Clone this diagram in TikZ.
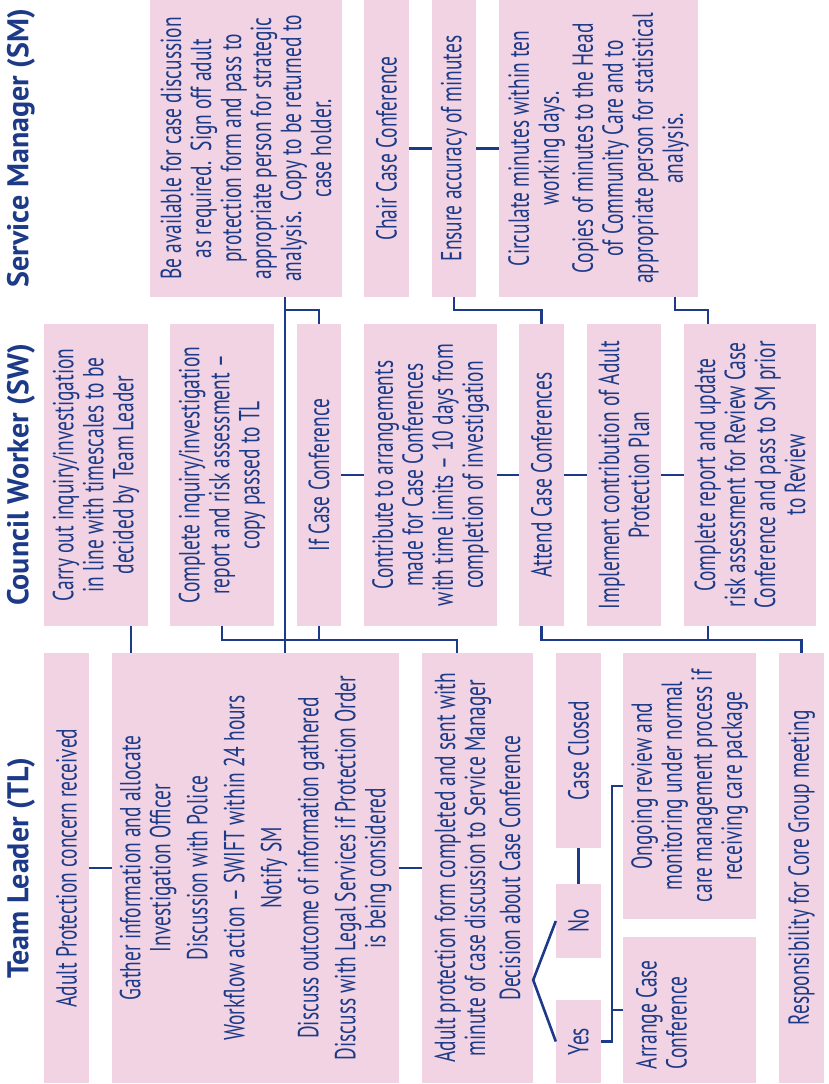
\documentclass[tikz,border=0pt]{standalone}
\usepackage{fontspec}
\newfontfamily\boxfont{PT Sans}[FakeStretch=0.67]
\newfontfamily\headfont{PT Sans}
\definecolor{boxpink}{RGB}{241,211,228}
\definecolor{apblue}{RGB}{28,58,135}
\tikzset{
  box/.style={fill=boxpink, rotate=90, align=center, inner sep=0pt, text=apblue,
    font=\boxfont\fontsize{29}{30}\selectfont},
  wh/.style 2 args={minimum width=#2pt, minimum height=#1pt},
  lane/.style={rotate=90, text=apblue, inner sep=0pt, font=\headfont\bfseries\fontsize{30}{34}\selectfont},
  link/.style={draw=apblue, line width=2.6pt},
}

\begin{document}
\begin{tikzpicture}[x=1pt, y=-1pt]
  \useasboundingbox (0,0) rectangle (828,1084);

  \node[lane] (hsm) at (21,148) {Service Manager (SM)};
  \node[lane] (hsw) at (21,475) {Council Worker (SW)};
  \node[lane] (htl) at (21,868) {Team Leader (TL)};

  % service manager
  \node[box, wh={192}{297}] (smavail) at (246,148.5) {Be available for case discussion\\as required.\ \ Sign off adult\\protection form and pass to\\appropriate person for strategic\\analysis.\ \ Copy to be returned to\\case holder.};
  \node[box, wh={45}{297}] (smchair) at (386.5,148.5) {Chair Case Conference};
  \node[box, wh={44}{297}] (smensure) at (454,148.5) {Ensure accuracy of minutes};
  \node[box, wh={199}{297}] (smcirc) at (598.5,148.5) {Circulate minutes within ten\\working days.\\[4pt]Copies of minutes to the Head\\of Community Care and to\\appropriate person for statistical\\analysis.};

  % council worker
  \node[box, wh={104}{302}] (swcarry) at (96,475) {Carry out inquiry/investigation\\in line with timescales to be\\decided by Team Leader};
  \node[box, wh={104}{302}] (swcomplete) at (222,475) {Complete inquiry/investigation\\report and risk assessment \textendash\\copy passed to TL};
  \node[box, wh={44}{302}] (swifcc) at (319,475) {If Case Conference};
  \node[box, wh={133}{302}] (swcontrib) at (430.5,475) {Contribute to arrangements\\made for Case Conferences\\with time limits \textendash\ 10 days from\\completion of investigation};
  \node[box, wh={45}{302}] (swattend) at (541.5,475) {Attend Case Conferences};
  \node[box, wh={74}{302}] (swimpl) at (624,475) {Implement contribution of Adult\\Protection Plan};
  \node[box, wh={132}{302}] (swreport) at (750,475) {Complete report and update\\risk assessment for Review Case\\Conference and pass to SM prior\\to Review};

  % team leader
  \node[box, wh={45}{430}] (tlconcern) at (66.5,868) {Adult Protection concern received};
  \node[box, wh={287}{430}] (tlgather) at (255.5,868) {Gather information and allocate\\Investigation Officer\\[7pt]Discussion with Police\\[7pt]Workflow action \textendash\ SWIFT within 24 hours\\[7pt]Notify SM\\[7pt]Discuss outcome of information gathered\\[7pt]Discuss with Legal Services if Protection Order\\is being considered};
  \node[box, wh={111}{430}] (tlform) at (477.5,868) {Adult protection form completed and sent with\\minute of case discussion to Service Manager\\[5pt]Decision about Case Conference};
  \node[box, wh={45}{195}] (tlclosed) at (578.5,750.5) {Case Closed};
  \node[box, wh={45}{74}] (tlno) at (578.5,921) {No};
  \node[box, wh={45}{83}] (tlyes) at (578.5,1041.5) {Yes};
  \node[box, wh={133}{266}] (tlongoing) at (689.5,786) {Ongoing review and\\monitoring under normal\\care management process if\\receiving care package};
  \node[box, wh={133}{146}] (tlarrange) at (689.5,1010) {};
  \node[box, fill=none, anchor=north west, align=left] at ([xshift=13pt, yshift=14pt]tlarrange.north west) {Arrange Case\\Conference};
  \node[box, wh={45}{430}] (tlcore) at (801.5,868) {Responsibility for Core Group meeting};

  \coordinate (upperbus) at (0,310);
  \coordinate (lowerbus) at (0,640);
  \coordinate (forky) at (0,980);
  \coordinate (carryx) at (131,0);
  \coordinate (trunkx) at (285,0);
  \coordinate (formx) at (457,0);
  \coordinate (circx) at (675,0);
  \coordinate (reportx) at (708,0);
  \coordinate (splitx) at (612,0);

  \draw[link] (smchair.south) -- (smensure.north);
  \draw[link] (smensure.south) -- (smcirc.north);
  \draw[link] (swifcc.south) -- (swcontrib.north);
  \draw[link] (swcontrib.south) -- (swattend.north);
  \draw[link] (swattend.south) -- (swimpl.north);
  \draw[link] (swimpl.south) -- (swreport.north);
  \draw[link] (tlconcern.south) -- (tlgather.north);
  \draw[link] (tlgather.south) -- (tlform.north);
  \draw[link] (tlclosed.west) -- (tlno.east);

  \draw[link] (smavail.west -| trunkx) -- (tlgather.east -| trunkx);
  \draw[link] (upperbus -| trunkx) -| (swifcc.east);
  \draw[link] (swcarry.west -| carryx) -- (tlgather.east -| carryx);
  \draw[link] (swcomplete.west) |- (lowerbus -| formx) -- (tlform.east -| formx);
  \draw[link] (swifcc.west) -- (swifcc.west |- lowerbus);
  \draw[link] (smensure.west) -- (smensure.west |- upperbus) -| (swattend.east);
  \draw[link] (smcirc.west -| circx) -- (upperbus -| circx) -| (swreport.east -| reportx);
  \draw[link] (swattend.west) |- (lowerbus -| tlcore.east) -- (tlcore.east);
  \draw[link] (swreport.west -| reportx) -- (lowerbus -| reportx);
  \draw[link] (tlno.north) -- (tlform.south |- forky) -- (tlyes.north);
  \draw[link] (tlyes.south) -| (tlongoing.north -| splitx) -- (tlongoing.north);
  \draw[link] (tlarrange.north -| splitx) -- (tlarrange.north);
\end{tikzpicture}
\end{document}
